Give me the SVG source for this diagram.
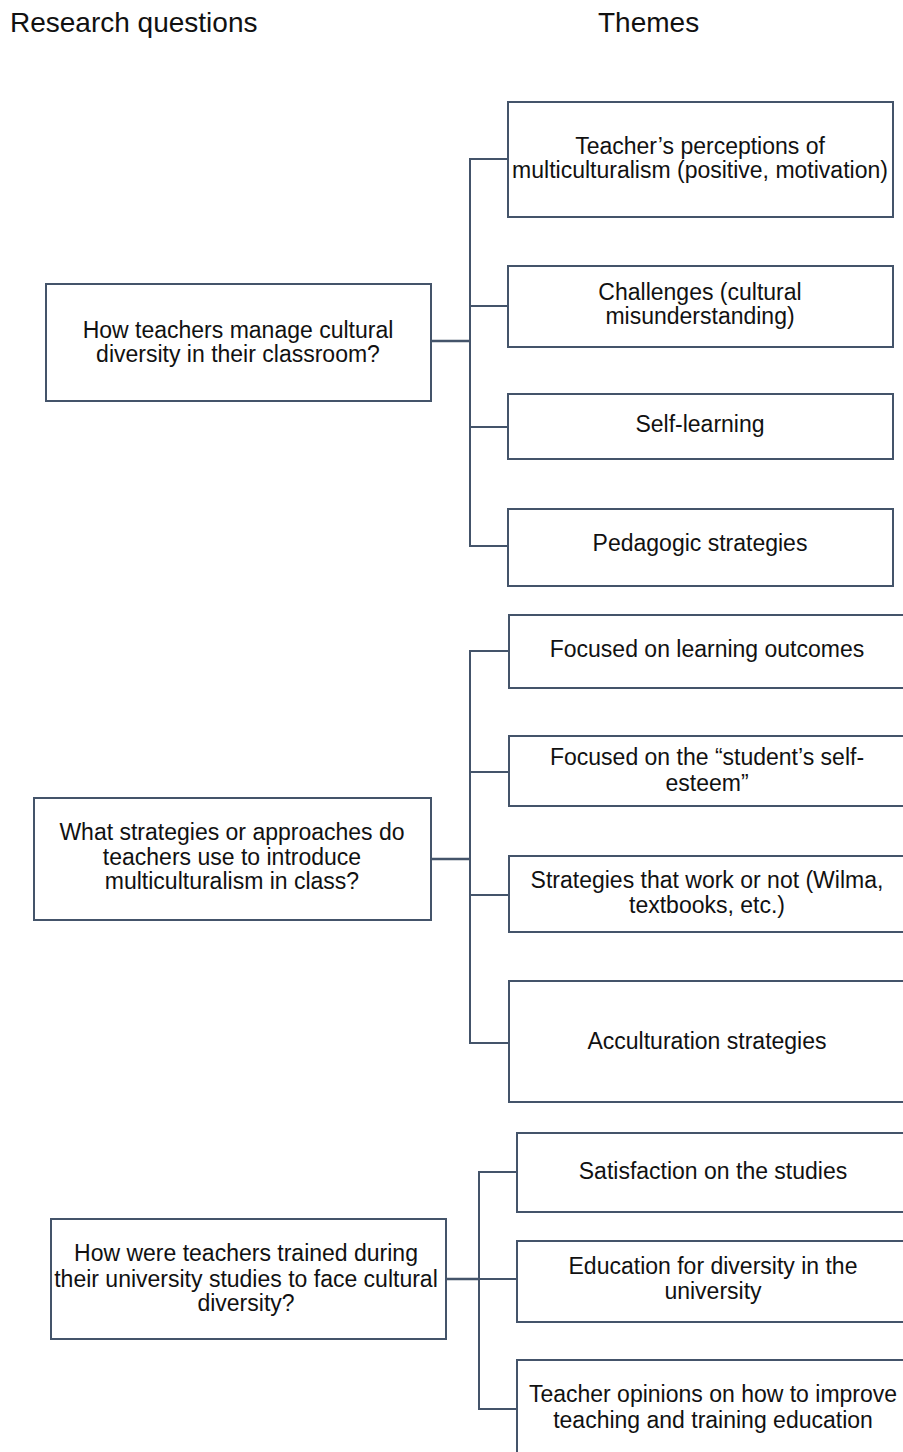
<svg xmlns="http://www.w3.org/2000/svg" width="903" height="1452" viewBox="0 0 903 1452">
<style>
.box{fill:#fff;stroke:#44546a;stroke-width:2}
.t{font-family:"Liberation Sans",Arial,sans-serif;font-size:23px;fill:#111;text-anchor:middle}
.h{font-family:"Liberation Sans",Arial,sans-serif;font-size:28px;fill:#111}
.c{fill:none;stroke:#44546a;stroke-width:2}
.cq{fill:none;stroke:#44546a;stroke-width:2.5}
</style>
<rect width="903" height="1452" fill="#fff"/>
<text class="h" x="10" y="32">Research questions</text>
<text class="h" x="598" y="32">Themes</text>

<g id="connectors">
<path class="cq" d="M431 341H470"/>
<path class="c" d="M508 159H470V546H508M470 306H508M470 427H508"/>
<path class="cq" d="M431 859H470"/>
<path class="c" d="M509 651H470V1043H509M470 772H509M470 895H509"/>
<path class="cq" d="M446 1279H479"/>
<path class="c" d="M517 1172H479V1409H517M479 1279H517"/>
</g>

<g id="q1"><rect class="box" x="46" y="284" width="385" height="117"/>
<text class="t" x="238" y="337.5">How teachers manage cultural</text>
<text class="t" x="238" y="362">diversity in their classroom?</text></g>

<g id="t1"><rect class="box" x="508" y="102" width="385" height="115"/>
<text class="t" x="700" y="153.5">Teacher’s perceptions of</text>
<text class="t" x="700" y="178">multiculturalism (positive, motivation)</text></g>
<g id="t2"><rect class="box" x="508" y="266" width="385" height="81"/>
<text class="t" x="700" y="299.5">Challenges (cultural</text>
<text class="t" x="700" y="323.5">misunderstanding)</text></g>
<g id="t3"><rect class="box" x="508" y="394" width="385" height="65"/>
<text class="t" x="700" y="432">Self-learning</text></g>
<g id="t4"><rect class="box" x="508" y="509" width="385" height="77"/>
<text class="t" x="700" y="551">Pedagogic strategies</text></g>

<g id="q2"><rect class="box" x="34" y="798" width="397" height="122"/>
<text class="t" x="232" y="840">What strategies or approaches do</text>
<text class="t" x="232" y="864.5">teachers use to introduce</text>
<text class="t" x="232" y="888.5">multiculturalism in class?</text></g>

<g id="t5"><rect class="box" x="509" y="615" width="400" height="73"/>
<text class="t" x="707" y="657">Focused on learning outcomes</text></g>
<g id="t6"><rect class="box" x="509" y="736" width="400" height="70"/>
<text class="t" x="707" y="765">Focused on the “student’s self-</text>
<text class="t" x="707" y="791">esteem”</text></g>
<g id="t7"><rect class="box" x="509" y="856" width="400" height="76"/>
<text class="t" x="707" y="887.5">Strategies that work or not (Wilma,</text>
<text class="t" x="707" y="912.5">textbooks, etc.)</text></g>
<g id="t8"><rect class="box" x="509" y="981" width="400" height="121"/>
<text class="t" x="707" y="1048.5">Acculturation strategies</text></g>

<g id="q3"><rect class="box" x="51" y="1219" width="395" height="120"/>
<text class="t" x="246" y="1261">How were teachers trained during</text>
<text class="t" x="246" y="1286.5">their university studies to face cultural</text>
<text class="t" x="246" y="1310.5">diversity?</text></g>

<g id="t9"><rect class="box" x="517" y="1133" width="400" height="79"/>
<text class="t" x="713" y="1178.5">Satisfaction on the studies</text></g>
<g id="t10"><rect class="box" x="517" y="1241" width="400" height="81"/>
<text class="t" x="713" y="1273.5">Education for diversity in the</text>
<text class="t" x="713" y="1299">university</text></g>
<g id="t11"><rect class="box" x="517" y="1360" width="400" height="110"/>
<text class="t" x="713" y="1402">Teacher opinions on how to improve</text>
<text class="t" x="713" y="1427.5">teaching and training education</text></g>
</svg>
